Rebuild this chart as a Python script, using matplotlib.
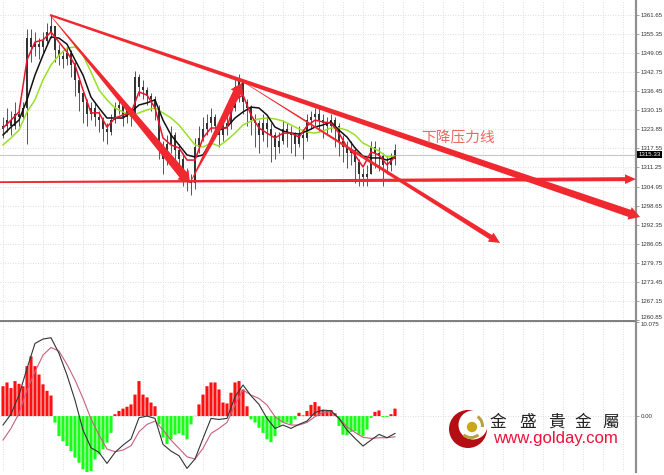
import matplotlib
matplotlib.use("Agg")
import matplotlib.pyplot as plt
import numpy as np
from matplotlib.patches import Polygon, Circle, Wedge, Rectangle
from matplotlib.transforms import IdentityTransform

opens = [1324,1325,1327,1325,1329,1328,1331,1354,1351,1352,1351,1353,1356,1358,1350,1348,1347,1349,1345,1340,1336,1333,1329,1331,1328,1327,1324,1323,1327,1331,1332,1328,1330,1328,1341,1338,1337,1335,1334,1331,1318,1314,1319,1322,1317,1314,1309,1307,1306,1318,1321,1324,1326,1328,1325,1322,1325,1326,1331,1338,1340,1333,1331,1327,1326,1322,1326,1324,1322,1318,1320,1324,1323,1322,1319,1322,1321,1327,1328,1329,1327,1326,1325,1327,1325,1320,1318,1316,1317,1313,1309,1308,1309,1318,1316,1315,1312,1312,1314]
closes = [1325,1327,1325,1329,1328,1331,1354,1351,1352,1351,1353,1356,1358,1350,1348,1347,1349,1345,1340,1336,1333,1329,1331,1328,1327,1324,1323,1327,1331,1332,1328,1330,1328,1341,1338,1337,1335,1334,1331,1318,1314,1319,1322,1317,1314,1309,1307,1306,1318,1321,1324,1326,1328,1325,1322,1325,1326,1331,1338,1340,1333,1331,1327,1326,1322,1326,1324,1322,1318,1320,1324,1323,1322,1319,1322,1321,1327,1328,1329,1327,1326,1325,1327,1325,1320,1318,1316,1317,1313,1309,1308,1309,1318,1316,1315,1312,1312,1314,1317]
highs = [1328,1331,1330,1333,1332,1333,1357,1357,1356,1354,1356,1359,1361.5,1358,1352,1350,1351,1350,1346,1341,1337,1334,1333,1333,1330,1328,1326,1329,1333,1335,1333,1332,1331,1343,1342,1340,1338,1336,1335,1332,1320,1322,1325,1323,1319,1316,1311,1309,1321,1325,1328,1329,1331,1329,1327,1328,1329,1334,1341,1342,1340,1334,1332,1329,1327,1329,1328,1326,1323,1323,1327,1326,1325,1323,1325,1324,1329,1330,1331,1331,1329,1328,1329,1328,1326,1322,1320,1320,1318,1314,1311,1312,1320,1320,1318,1316,1315,1316,1319]
lows = [1321,1323,1322,1324,1325,1327,1319,1346,1348,1347,1349,1352,1354,1346,1345,1344,1345,1341,1335,1330,1326,1325,1327,1325,1323,1320,1319,1322,1326,1329,1325,1326,1325,1327,1335,1334,1332,1330,1327,1314,1309,1312,1316,1313,1309,1305,1303.5,1302,1304,1316,1320,1322,1323,1321,1318,1320,1322,1324,1330,1333,1329,1325,1322,1318,1316,1320,1318,1313,1314,1316,1319,1318,1316,1315,1318,1314,1320,1324,1325,1323,1321,1322,1323,1318,1315,1313,1311,1312,1306,1305,1305,1305,1309,1311,1310,1305,1309,1310,1312]

ma_index = list(range(0, 99, 2))
ma_red = [1324.3,1326.9,1329.6,1346.8,1352.7,1353.4,1356,1352.7,1349.4,1345.1,1336.9,1329.3,1329.3,1324.6,1327.6,1328.6,1329.3,1336.2,1335.2,1330.9,1321,1318.7,1317.7,1313.7,1313.7,1321,1324.3,1324.3,1324.3,1333.6,1335.2,1328.6,1324.3,1322.6,1321,1322.6,1322.6,1321.3,1325,1326.9,1326.3,1325.9,1322.6,1318,1315.4,1311.4,1316.4,1315.4,1312.1,1314.7]
ma_black = [1322,1324.6,1326.9,1333.6,1341.8,1348.4,1354.4,1354,1352,1346.8,1341.8,1334.5,1330.9,1327.6,1327.6,1327.6,1329.6,1331.9,1332.6,1333.6,1326.9,1322,1318.7,1315.4,1314.7,1315.4,1319.7,1323.6,1324.6,1327.6,1329.6,1331.2,1330.9,1328.6,1324.6,1323.3,1322.6,1322.3,1323.3,1324.6,1325.3,1326.3,1323.6,1321.3,1317.7,1315,1314.4,1314.4,1313.7,1314.7]
ma_green = [1318.7,1321,1323.6,1329.6,1333.6,1340.2,1345.1,1348.4,1350.7,1351.1,1348.4,1342.8,1336.9,1333.6,1330.9,1329.6,1328.3,1329.3,1330.3,1330.9,1329.3,1327.6,1325.3,1322,1318.7,1318,1319.3,1318.3,1320.3,1322.6,1325.3,1326.6,1327.3,1327.6,1327.3,1326.6,1325.3,1324,1323,1322.6,1323.3,1324.3,1324.3,1323.6,1322,1319.3,1318,1316.7,1314.7,1315]

macd_hist = [3.2,3.6,3.0,3.75,3.45,3.2,5.35,6.4,5.35,4.45,3.4,2.7,2.2,-0.7,-2.15,-2.7,-3.2,-3.75,-4.45,-5,-5.7,-6,-5.9,-4.65,-4.1,-3.55,-2.85,-1.8,0.2,0.55,0.8,1,1.25,2.3,3.75,2.3,2,1.45,1.05,-0.9,-2.3,-3,-2.5,-2,-1.85,-2.05,-2.5,-0.9,0.02,1.25,2.3,3.2,3.6,3.6,2.85,1.45,1.35,2.5,3.6,3.75,2.85,1.05,-0.35,-0.7,-1.25,-1.8,-2.5,-2.8,-2.15,-1.05,-0.7,-0.7,-0.9,-0.35,0.35,0.07,0.55,1.2,1.5,1.05,0.65,0.55,0.65,0.3,-1.05,-2,-2.05,-1.7,-1.6,-2,-2.15,-1.45,-0.2,0.45,0.6,-0.1,-0.1,0.2,0.8]
macd_line = [-0.96,0.21,2.25,5.1,7.78,8.25,8.39,6.71,4.39,1.71,-1.5,-3.39,-3.89,-5.07,-3.89,-3.11,-2.46,-0.18,0,-0.25,-3.03,-3.75,-4.25,-5.6,-4.6,-2.39,-0.25,-0.36,-0.25,2.07,3.32,2.18,1.25,-0.25,-1.32,-0.96,-1.32,-0.89,-0.54,0.39,0.64,0.57,-0.25,-1.5,-2.39,-3.21,-2.57,-1.96,-2.32,-1.86]
macd_signal = [-2.57,-1.32,0.29,2.78,4.75,6.53,7.35,6.96,5.53,3.86,1.89,-0.32,-2.03,-3.53,-3.82,-3.64,-3.18,-1.68,-0.89,-0.54,-1.5,-2.57,-3.46,-4.36,-4.6,-3.46,-1.86,-1.32,-0.68,1.18,2.78,2.25,1.89,1.18,-0.07,-0.68,-0.96,-0.96,-0.68,-0.07,0.39,0.46,-0.25,-1.14,-1.75,-2.28,-2.39,-2.32,-2.32,-2.21]

price_ticks = [1361.65,1355.35,1349.05,1342.75,1336.45,1330.15,1323.85,1317.55,1311.25,1304.95,1298.65,1292.35,1286.05,1279.75,1273.45,1267.15,1260.85]
macd_ticks = [10.075, 0.0]
macd_tick_labels = ["10.075", "0.00"]
last_price = 1315.33
note_text = "下降压力线"
logo_cn = ["金", "盛", "貴", "金", "屬"]
logo_url = "www.golday.com"

# trend arrows: (start bar, start price, end bar, end price, start width, end width)
arrows = [
    (-0.75, 1306.4, 158.25, 1307.4, 1.8, 4.0),
    (11.75, 1361.65, 46.75, 1306.1, 0.5, 9.0),
    (46.75, 1306.1, 59.75, 1339.2, 0.5, 8.5),
    (59.25, 1340.2, 124.25, 1286.3, 0.5, 5.0),
    (11.75, 1361.65, 159.25, 1294.9, 2.2, 7.5),
]

W, H = 664, 475
fig = plt.figure(figsize=(W/100, H/100), dpi=100, facecolor="white")
def axes_px(x0, y0, x1, y1, **kw):
    return fig.add_axes([x0/W, 1-y1/H, (x1-x0)/W, (y1-y0)/H], **kw)

ax = axes_px(0, 0, 636, 320)
ax2 = axes_px(0, 322, 636, 472)
xs = np.arange(len(closes))
for a in (ax, ax2):
    a.set_xlim(-0.75, 158.25)
    a.set_xticks(np.arange(0, 159, 5))
    a.tick_params(axis="x", length=0, labelbottom=False)
    a.grid(True, axis="both", ls=(0, (1, 2)), color="#d4d4d4", lw=0.6)
    a.set_axisbelow(True)
    a.yaxis.tick_right()
    for s in ("top", "left", "bottom"):
        a.spines[s].set_visible(False)
    a.spines["right"].set_color("#909090")
    a.spines["right"].set_linewidth(1.6)
    a.tick_params(axis="y", length=2, width=0.5, color="#808080", pad=1.5)

ax.set_ylim(1260.84, 1366.6)
ax.set_yticks(price_ticks)
ax.set_yticklabels([f"{v:.2f}" for v in price_ticks], fontsize=4.4, color="#333333", family="Liberation Sans")
ax.get_yticklabels()[-1].set_va("bottom")
ax.axhline(last_price, color="#c8c8c8", lw=0.8, zorder=1)

ax.vlines(xs, lows, highs, color="#555555", lw=0.7, zorder=2)
for x, o, c in zip(xs, opens, closes):
    ax.add_patch(Rectangle((x-0.3, min(o, c)), 0.6, max(abs(c-o), 0.2), fc="#333333", ec="none", zorder=2.5))

ax.plot(ma_index, ma_green, color="#98e028", lw=1.1, zorder=3)
ax.plot(ma_index, ma_black, color="#111111", lw=1.1, zorder=3.2)
ax.plot(ma_index, ma_red, color="#e8142c", lw=1.1, zorder=3.4)

ax2.set_ylim(-5.99, 10.06)
ax2.set_yticks(macd_ticks)
ax2.set_yticklabels(macd_tick_labels, fontsize=4.4, color="#333333", family="Liberation Sans")
ax2.get_yticklabels()[0].set_va("top")
hist = np.array(macd_hist)
for rect in ax2.bar(xs, hist, width=0.78, color=np.where(hist >= 0, "#ff1010", "#18ff18"), zorder=2):
    rect.set_snap(False)
ax2.plot(ma_index, macd_signal, color="#c8607c", lw=0.8, zorder=3)
ax2.plot(ma_index, macd_line, color="#333333", lw=0.8, zorder=3.2)

fig.canvas.draw()
def tapered(x0, y0, x1, y1, w0, w1):
    p0 = ax.transData.transform((x0, y0))
    p1 = ax.transData.transform((x1, y1))
    d = p1 - p0
    u = d / np.hypot(*d)
    n = np.array([-u[1], u[0]])
    head = 11.0
    b = p1 - u * head
    hw = w1 * 0.5 + 2.8
    pts = [p0 + n*w0/2, b + n*w1/2, b + n*hw, p1, b - n*hw, b - n*w1/2, p0 - n*w0/2]
    return Polygon(pts, closed=True, transform=IdentityTransform(), fc="#f0282f", ec="none", zorder=10, clip_on=False)
for spec in arrows:
    fig.add_artist(tapered(*spec))

ov = fig.add_axes([0, 0, 1, 1], facecolor="none", zorder=20)
ov.set_xlim(0, W)
ov.set_ylim(H, 0)
ov.axis("off")

ov.text(458, 138.5, note_text, color="#ea6a5e", fontsize=10.6, ha="center", va="center", family=["Noto Sans CJK SC", "DejaVu Sans"])
ov.add_patch(Rectangle((637, 151), 25, 6.5, fc="black", ec="none"))
ov.text(649.5, 154.2, f"{last_price:.2f}", color="white", fontsize=4.4, ha="center", va="center", family="Liberation Sans")
ov.add_patch(Rectangle((0, 319.5), 636, 2.2, fc="#808080", ec="none"))

# logo
ov.add_patch(Circle((468, 429), 19, fc="#b50d14", ec="none"))
ov.add_patch(Circle((473, 425), 14.5, fc="white", ec="none"))
ov.add_patch(Circle((472, 427), 5.2, fc="#c8a818", ec="none"))
ov.add_patch(Wedge((471, 426), 13, 50, 130, width=3, fc="#b9a040", ec="none"))
ov.add_patch(Wedge((471, 426), 13, -55, 5, width=3, fc="#b9a040", ec="none"))
for xc, ch in zip([498, 528, 556, 583, 611], logo_cn):
    ov.text(xc, 422, ch, color="#222222", fontsize=12, ha="center", va="center", family=["Noto Sans CJK TC", "DejaVu Sans"])
ov.text(493, 439, logo_url, color="#f01038", fontsize=12.1, ha="left", va="center", family="Liberation Sans")

fig.savefig("out.png", dpi=100, facecolor="white")
